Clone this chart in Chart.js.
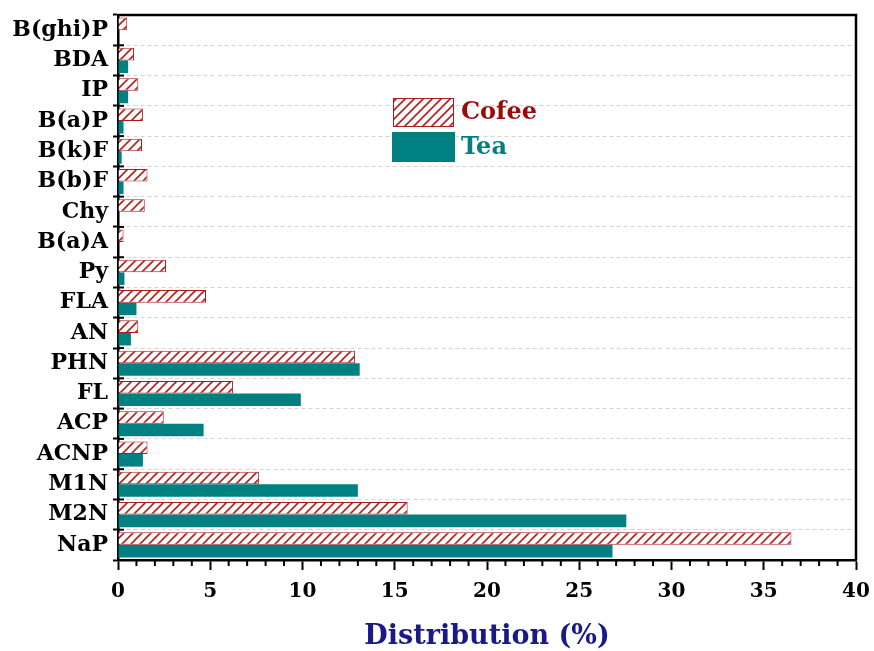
<!DOCTYPE html>
<html>
<head>
<meta charset="utf-8">
<script src="https://cdn.jsdelivr.net/npm/chart.js@4/dist/chart.umd.min.js"></script>
<style>
  body { margin: 0; background: #fff; }
  #wrap { width: 874px; height: 651px; position: relative; }
</style>
</head>
<body>
<div id="wrap"><canvas id="chart"></canvas></div>
<script>
// PAH profile, top to bottom
const compounds = ['B(ghi)P', 'BDA', 'IP', 'B(a)P', 'B(k)F', 'B(b)F', 'Chy', 'B(a)A', 'Py', 'FLA',
  'AN', 'PHN', 'FL', 'ACP', 'ACNP', 'M1N', 'M2N', 'NaP'];
const coffee = [0.5, 0.87, 1.1, 1.35, 1.3, 1.6, 1.45, 0.3, 2.6, 4.77, 1.1, 12.85, 6.23, 2.48, 1.6, 7.65, 15.7, 36.5];
const tea = [0, 0.55, 0.55, 0.3, 0.2, 0.3, 0, 0, 0.35, 1.0, 0.7, 13.1, 9.91, 4.64, 1.35, 13.0, 27.55, 26.8];
const xTicks = [0, 5, 10, 15, 20, 25, 30, 35, 40];

const SERIF = "'DejaVu Serif', 'Liberation Serif', serif";
const RED = '#a81c1c';
const TEAL = '#008080';

function hatch(color) {
  const n = 9;
  const c = document.createElement('canvas');
  c.width = n; c.height = n;
  const g = c.getContext('2d');
  g.fillStyle = '#fff';
  g.fillRect(0, 0, n, n);
  g.strokeStyle = color;
  g.lineWidth = 1.6;
  g.beginPath();
  g.moveTo(0, n); g.lineTo(n, 0);
  g.moveTo(-2, 2); g.lineTo(2, -2);
  g.moveTo(n - 2, n + 2); g.lineTo(n + 2, n - 2);
  g.stroke();
  return g.createPattern(c, 'repeat');
}
const coffeeFill = hatch('#b52020');

// frame, inner y ticks, minor x ticks and the legend
const extras = {
  id: 'extras',
  afterDraw(chart) {
    const { ctx, chartArea: a, scales } = chart;
    ctx.save();
    ctx.strokeStyle = '#000';
    ctx.lineWidth = 2.5;
    ctx.beginPath();
    ctx.moveTo(a.left, a.top); ctx.lineTo(a.right, a.top); ctx.lineTo(a.right, a.bottom);
    ctx.stroke();

    ctx.lineWidth = 2;
    const y = scales.y;
    const step = y.getPixelForValue(1) - y.getPixelForValue(0);
    for (let i = 0; i <= compounds.length; i++) {
      const py = y.getPixelForValue(0) + (i - 0.5) * step;
      ctx.beginPath(); ctx.moveTo(a.left, py); ctx.lineTo(a.left + 6, py); ctx.stroke();
    }
    const x = scales.x;
    for (let v = 0; v <= 40; v++) {
      if (v % 5 === 0) continue;
      const px = x.getPixelForValue(v);
      ctx.beginPath(); ctx.moveTo(px, a.bottom); ctx.lineTo(px, a.bottom + 6); ctx.stroke();
    }

    // legend
    ctx.fillStyle = coffeeFill;
    ctx.fillRect(393, 98, 61, 29);
    ctx.strokeStyle = RED; ctx.lineWidth = 1;
    ctx.strokeRect(393.5, 98.5, 60, 28);
    ctx.fillStyle = TEAL;
    ctx.fillRect(392, 132, 63, 30);
    ctx.font = 'bold 24px ' + SERIF;
    ctx.textBaseline = 'middle';
    ctx.fillStyle = '#9b0a0a';
    ctx.fillText('Cofee', 461, 113);
    ctx.fillStyle = TEAL;
    ctx.fillText('Tea', 461, 148);
    ctx.restore();
  }
};

new Chart(document.getElementById('chart'), {
  type: 'bar',
  data: {
    labels: compounds,
    datasets: [
      { label: 'Cofee', data: coffee, backgroundColor: coffeeFill, borderColor: RED, borderWidth: 1,
        categoryPercentage: 0.83, barPercentage: 1 },
      { label: 'Tea', data: tea, backgroundColor: TEAL, borderWidth: 0,
        categoryPercentage: 0.83, barPercentage: 1 }
    ]
  },
  options: {
    indexAxis: 'y',
    responsive: true,
    maintainAspectRatio: false,
    animation: false,
    layout: { padding: { top: 15, right: 18, left: 0, bottom: 0 } },
    plugins: { legend: { display: false }, tooltip: { enabled: false } },
    scales: {
      x: {
        min: 0, max: 40,
        afterBuildTicks: (s) => { s.ticks = xTicks.map(v => ({ value: v })); },
        afterFit: (s) => { s.height = 91; s.paddingRight = 0; s.paddingLeft = 0; },
        grid: { drawOnChartArea: false, tickLength: 10, tickColor: '#000', tickWidth: 2 },
        border: { color: '#000', width: 2.5 },
        ticks: { color: '#000', padding: 10, font: { family: SERIF, size: 20, weight: 'bold' } },
        title: {
          display: true, text: 'Distribution (%)', color: '#1a1a86',
          font: { family: SERIF, size: 27, weight: 'bold' }, padding: { top: 0, bottom: -2 }
        }
      },
      y: {
        afterFit: (s) => { s.width = 118; s.paddingTop = 0; s.paddingBottom = 0; },
        grid: { color: '#d4d4d4', lineWidth: 1, tickLength: 5, tickColor: '#000', tickWidth: 2 },
        border: { color: '#000', width: 2.5, dash: [4, 3] },
        ticks: { color: '#000', padding: 5, autoSkip: false, font: { family: SERIF, size: 22, weight: 'bold' } }
      }
    }
  },
  plugins: [extras]
});
</script>
</body>
</html>
